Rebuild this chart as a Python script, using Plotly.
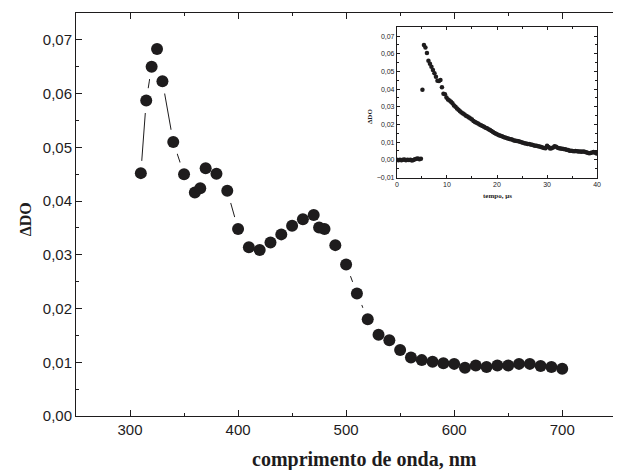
import plotly.graph_objects as go

# Main spectrum
wavelength = [310, 315, 320, 325, 330, 340, 350, 360, 365, 370, 380, 390, 400, 410, 420,
              430, 440, 450, 460, 470, 475, 480, 490, 500, 510, 520, 530, 540, 550, 560,
              570, 580, 590, 600, 610, 620, 630, 640, 650, 660, 670, 680, 690, 700]
delta_do = [0.0452, 0.0587, 0.0650, 0.0683, 0.0623, 0.0510, 0.0450, 0.0416, 0.0424, 0.0461,
            0.0451, 0.0419, 0.0348, 0.0314, 0.0309, 0.0323, 0.0338, 0.0354, 0.0366, 0.0374,
            0.0351, 0.0348, 0.0318, 0.0282, 0.0228, 0.0180, 0.0151, 0.0141, 0.0123, 0.0109,
            0.0104, 0.0101, 0.0098, 0.0097, 0.0090, 0.0094, 0.0091, 0.0094, 0.0094, 0.0097,
            0.0097, 0.0093, 0.0091, 0.0088]

# Inset decay trace
time_us = [0.0, 0.3, 0.6, 0.9, 1.2, 1.5, 1.8, 2.1, 2.4, 2.7, 3.0, 3.3, 3.6, 3.9, 4.2, 4.5, 4.8,
           5.1, 5.4, 5.7, 6.0, 6.3, 6.6, 6.9, 7.2, 7.5, 7.8, 8.1, 8.4, 8.7, 9.0, 9.3, 9.6, 9.9,
           10.2, 10.5, 10.8, 11.1, 11.4, 11.7, 12.0, 12.3, 12.6, 12.9, 13.2, 13.5, 13.8, 14.1,
           14.4, 14.7, 15.0, 15.3, 15.6, 15.9, 16.2, 16.5, 16.8, 17.1, 17.4, 17.7, 18.0, 18.3,
           18.6, 18.9, 19.2, 19.5, 19.8, 20.1, 20.4, 20.7, 21.0, 21.3, 21.6, 21.9, 22.2, 22.5,
           22.8, 23.1, 23.4, 23.7, 24.0, 24.3, 24.6, 24.9, 25.2, 25.5, 25.8, 26.1, 26.4, 26.7,
           27.0, 27.3, 27.6, 27.9, 28.2, 28.5, 28.8, 29.1, 29.4, 29.7, 30.0, 30.3, 30.6, 30.9,
           31.2, 31.5, 31.8, 32.1, 32.4, 32.7, 33.0, 33.3, 33.6, 33.9, 34.2, 34.5, 34.8, 35.1,
           35.4, 35.7, 36.0, 36.3, 36.6, 36.9, 37.2, 37.5, 37.8, 38.1, 38.4, 38.7, 39.0, 39.3,
           39.6, 39.9]
decay_do = [0.0000, -0.0002, 0.0001, -0.0003, 0.0000, 0.0002, -0.0002, 0.0001, -0.0001, 0.0000,
            -0.0004, -0.0001, 0.0003, 0.0006, 0.0008, 0.0003, 0.0006,
            0.0397, 0.0650, 0.0635, 0.0604, 0.0560, 0.0543, 0.0527, 0.0508, 0.0490, 0.0470,
            0.0448, 0.0446, 0.0452, 0.0410, 0.0374, 0.0371, 0.0352, 0.0342, 0.0336, 0.0328,
            0.0320, 0.0307, 0.0300, 0.0290, 0.0283, 0.0275, 0.0268, 0.0262, 0.0257, 0.0250,
            0.0245, 0.0240, 0.0234, 0.0228, 0.0220, 0.0214, 0.0210, 0.0205, 0.0200, 0.0196,
            0.0191, 0.0187, 0.0181, 0.0178, 0.0173, 0.0169, 0.0163, 0.0158, 0.0152, 0.0148,
            0.0144, 0.0139, 0.0136, 0.0133, 0.0129, 0.0126, 0.0123, 0.0121, 0.0118, 0.0116,
            0.0113, 0.0110, 0.0108, 0.0107, 0.0105, 0.0103, 0.0100, 0.0097, 0.0094, 0.0092,
            0.0090, 0.0089, 0.0087, 0.0085, 0.0082, 0.0080, 0.0079, 0.0077, 0.0076, 0.0073,
            0.0070, 0.0067, 0.0066, 0.0080, 0.0072, 0.0064, 0.0066, 0.0070, 0.0077, 0.0074,
            0.0068, 0.0065, 0.0064, 0.0062, 0.0061, 0.0060, 0.0057, 0.0055, 0.0052, 0.0051,
            0.0050, 0.0049, 0.0050, 0.0048, 0.0047, 0.0047, 0.0046, 0.0047, 0.0046, 0.0043,
            0.0040, 0.0037, 0.0039, 0.0042, 0.0044, 0.0040, 0.0036]

INK = "#1e1c1d"
SANS = "Liberation Sans, Arial, sans-serif"
SERIF = "Liberation Serif, Times New Roman, serif"

fig = go.Figure()
# connecting line
fig.add_trace(go.Scatter(x=wavelength, y=delta_do, mode="lines",
                         line=dict(color=INK, width=1), hoverinfo="skip"))
# white halo around each symbol (gap in line)
fig.add_trace(go.Scatter(x=wavelength, y=delta_do, mode="markers",
                         marker=dict(color="white", size=25, line=dict(width=0)), hoverinfo="skip"))
# symbols
fig.add_trace(go.Scatter(x=wavelength, y=delta_do, mode="markers",
                         marker=dict(color=INK, size=12, line=dict(width=0))))
# inset
fig.add_trace(go.Scatter(x=time_us, y=decay_do, mode="markers", xaxis="x2", yaxis="y2",
                         marker=dict(color=INK, size=4.5, line=dict(width=0))))

axis_common = dict(showline=True, linecolor=INK, linewidth=1, showgrid=False, zeroline=False,
                   ticks="inside", tickcolor=INK)

fig.update_layout(
    width=617, height=470,
    margin=dict(l=76, r=0, t=13, b=53.5),
    plot_bgcolor="white", paper_bgcolor="white",
    showlegend=False,
    separators=",.",
    xaxis=dict(domain=[0, 1], range=[250, 747], tick0=300, dtick=100, ticklen=6,
               tickfont=dict(family=SANS, size=15, color=INK), mirror="ticks",
               minor=dict(ticks="inside", ticklen=3, dtick=50, tick0=250, tickcolor=INK),
               **axis_common),
    yaxis=dict(domain=[0, 1], range=[0, 0.075], tick0=0, dtick=0.01, tickformat=".2f",
               ticklen=6, tickfont=dict(family=SANS, size=15, color=INK), mirror=False,
               minor=dict(ticks="inside", ticklen=3, dtick=0.005, tick0=0, tickcolor=INK),
               **axis_common),
    xaxis2=dict(domain=[0.5976, 0.9704], range=[0, 40], tick0=0, dtick=10, ticklen=3,
                anchor="y2", tickfont=dict(family=SANS, size=7, color=INK), mirror="ticks",
                minor=dict(ticks="inside", ticklen=2, dtick=5, tick0=0, tickcolor=INK),
                **axis_common),
    yaxis2=dict(domain=[0.5918, 0.9646], range=[-0.01, 0.075], tick0=-0.01, dtick=0.01,
                tickformat=".2f", ticklen=3, anchor="x2",
                tickfont=dict(family=SANS, size=7, color=INK), mirror="ticks",
                minor=dict(ticks="inside", ticklen=2, dtick=0.005, tick0=0, tickcolor=INK),
                **axis_common),
    annotations=[
        dict(text="<b>comprimento de onda, nm</b>", xref="paper", yref="paper",
             x=0.537, y=-0.107, xanchor="center", yanchor="middle", showarrow=False,
             font=dict(family=SERIF, size=20, color=INK)),
        dict(text="<b>ΔDO</b>", xref="paper", yref="paper", x=-0.094, y=0.487,
             xanchor="center", yanchor="middle", textangle=-90, showarrow=False,
             font=dict(family=SERIF, size=16, color=INK)),
        dict(text="<b>tempo, µs</b>", xref="paper", yref="paper", x=0.784, y=0.545,
             xanchor="center", yanchor="middle", showarrow=False,
             font=dict(family=SERIF, size=7, color=INK)),
        dict(text="<b>ΔDO</b>", xref="paper", yref="paper", x=0.5465, y=0.743,
             xanchor="center", yanchor="middle", textangle=-90, showarrow=False,
             font=dict(family=SERIF, size=7, color=INK)),
    ],
)

fig.write_html("out.html", config={"displayModeBar": False},
               post_script="document.body.style.margin='0';document.body.style.overflow='hidden';")
